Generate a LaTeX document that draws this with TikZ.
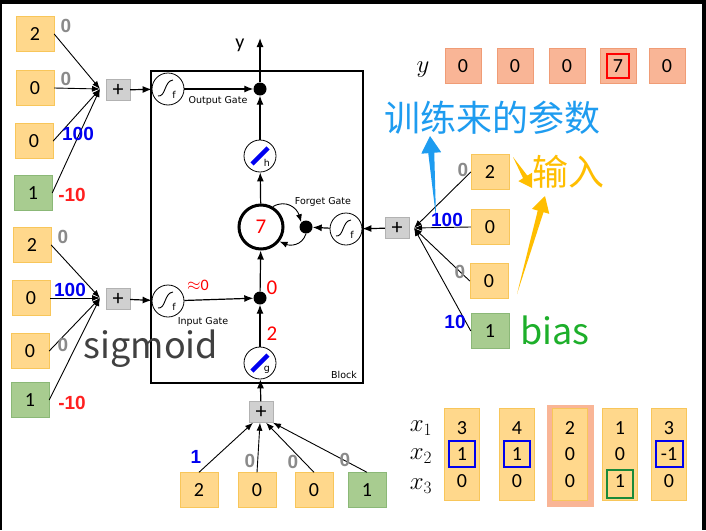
\documentclass[tikz,border=0pt]{standalone}
\usepackage{fontspec}
\setmainfont{Carlito}
\newfontfamily\wfont{Liberation Sans}
\newfontfamily\gfont{DejaVu Sans}
\newfontfamily\cjk{Noto Sans CJK SC}
\usetikzlibrary{arrows.meta}
\usetikzlibrary{calc}

\definecolor{inorange}{HTML}{FFD88C}
\definecolor{inedge}{HTML}{F8C65A}
\definecolor{ingreen}{HTML}{A8CC90}
\definecolor{greenedge}{HTML}{8BB877}
\definecolor{outsalmon}{HTML}{F9B596}
\definecolor{salmonedge}{HTML}{F09C76}
\definecolor{plusgray}{HTML}{D0D0D0}
\definecolor{paramblue}{HTML}{1E9CF0}
\definecolor{inputgold}{HTML}{FFBE00}
\definecolor{biasgreen}{HTML}{1DAF2A}
\definecolor{wgray}{HTML}{8A8A8A}
\definecolor{wblue}{HTML}{0000F0}
\definecolor{wred}{HTML}{FF2020}
\definecolor{sigtext}{HTML}{404040}
\definecolor{markgreen}{HTML}{1A8A3A}

\tikzset{
  xin/.style={draw=inedge, fill=inorange, minimum width=38pt, minimum height=35pt,
    inner sep=0pt, font=\fontsize{20}{20}\selectfont},
  xbias/.style={xin, draw=greenedge, fill=ingreen},
  yout/.style={xin, draw=salmonedge, fill=outsalmon, minimum width=36pt},
  colbox/.style={draw=inedge, fill=inorange, minimum width=35pt, minimum height=92pt, inner sep=0pt},
  adder/.style={draw=gray!60, fill=plusgray, minimum width=24pt, minimum height=21pt,
    inner sep=0pt, font=\fontsize{22}{22}\selectfont},
  unit/.style={draw, circle, line width=0.8pt, minimum size=32pt, inner sep=0pt, fill=white},
  mult/.style={fill, circle, minimum size=13pt, inner sep=0pt},
  wt/.style={font=\wfont\bfseries\fontsize{19}{19}\selectfont, inner sep=0pt},
  gatelabel/.style={font=\gfont\fontsize{9.5}{9.5}\selectfont, inner sep=0pt},
  flow/.style={line width=1.2pt, -{Latex[length=9pt,width=7pt]}},
  wire/.style={line width=0.9pt, -{Latex[length=8pt,width=6pt]}},
  big/.style={font=\cjk\fontsize{36}{36}\selectfont, inner sep=0pt},
  redmark/.style={font=\fontsize{21}{21}\selectfont, text=red, inner sep=0pt},
  mathlabel/.style={font=\fontsize{25}{25}\selectfont, inner sep=0pt},
  sigm/.pic={
    \draw[line width=0.9pt] (-10,7) .. controls (-2,8) and (-4,-8) .. (5,-9);
    \node[gatelabel] at (6,6) {f};
  },
  slashu/.pic={
    \draw[wblue, line width=4.5pt] (-8,8) -- (8,-8);
    \node[gatelabel] at (7,7) {#1};
  }
}

\newcommand{\taperarrow}[6]{%
  \coordinate (hb) at ($(#3)!#4!(#2)$);
  \fill[#1] (#3) -- ($(hb)!#5!90:(#3)$) -- ($(hb)!#6!90:(#3)$) -- (#2)
    -- ($(hb)!#6!-90:(#3)$) -- ($(hb)!#5!-90:(#3)$) -- cycle;
}

\begin{document}
\begin{tikzpicture}[x=1pt,y=-1pt]
  \useasboundingbox (0,0) rectangle (706,530);
  \fill[black] (0,0) rectangle (706,530);
  \fill[white] (2,4) rectangle (702,530);

  \draw[line width=1.2pt] (151,71) rectangle (363,383);
  \node[gatelabel] at (344,375) {Block};

  \node[unit] (og) at (168,89) {};
  \pic at (og) {sigm};
  \node[gatelabel] at (218,101) {Output Gate};
  \node[unit] (ig) at (168,301) {};
  \pic at (ig) {sigm};
  \node[gatelabel] at (203,322) {Input Gate};
  \node[unit] (fg) at (346,229) {};
  \pic at (fg) {sigm};
  \node[gatelabel] at (323,202) {Forget Gate};
  \node[unit] (hu) at (260,156) {};
  \pic at (hu) {slashu=h};
  \node[unit] (gu) at (260,363) {};
  \pic at (gu) {slashu=g};
  \node[unit, line width=3pt, minimum size=44pt, redmark] (cell) at (261,227) {7};

  \node[mult] (om) at (260,89) {};
  \node[mult] (im) at (260,298) {};
  \node[mult] (fm) at (306,227) {};
  \coordinate (yend) at (260,38);
  \node[font=\fontsize{20}{20}\selectfont] at (240,45) {y};

  \draw[flow] (og) -- (om);
  \draw[flow] (ig) -- (im);
  \draw[flow] (fg) -- (fm);
  \draw[flow] (gu) -- (im);
  \draw[flow] (im) -- (cell);
  \draw[flow] (cell) -- (hu);
  \draw[flow] (hu) -- (om);
  \draw[flow] (om) -- (yend);
  \draw[wire] (cell.60) .. controls (286,199) and (297,208) .. (fm.north west);
  \draw[wire] (fm.south) .. controls (302,246) and (290,246) .. (cell.-38);

  \node[redmark] at (272,288) {0};
  \node[redmark] at (272,334) {2};
  \node[redmark, font=\fontsize{16}{16}\selectfont] at (198,285) {$\approx$0};

  % output gate inputs
  \node[xin] (o1) at (35,34) {2};
  \node[xin] (o2) at (35,88) {0};
  \node[xin] (o3) at (34,141) {0};
  \node[xbias] (o4) at (33,193) {1};
  \coordinate (jo) at (100,89);
  \node[adder] (ao) at (118,90) {+};
  \foreach \k in {1,...,4} \draw[wire] (o\k.east) -- (jo);
  \draw[flow] (ao) -- (og);
  \node[wt, wgray] at (66,26) {0};
  \node[wt, wgray] at (66,79) {0};
  \node[wt, wblue] at (78,134) {100};
  \node[wt, wred] at (72,195) {-10};

  % input gate inputs
  \node[xin] (i1) at (32,245) {2};
  \node[xin] (i2) at (31,298) {0};
  \node[xin] (i3) at (30,351) {0};
  \node[xbias] (i4) at (30,400) {1};
  \coordinate (ji) at (100,298);
  \node[adder] (ai) at (118,299) {+};
  \foreach \k in {1,...,4} \draw[wire] (i\k.east) -- (ji);
  \draw[flow] (ai) -- (ig);
  \node[wt, wgray] at (63,237) {0};
  \node[wt, wblue] at (70,290) {100};
  \node[wt, wgray] at (63,345) {0};
  \node[wt, wred] at (72,403) {-10};
  \node[big, text=sigtext] at (151,349) {sigmoid};

  % forget gate inputs
  \node[xin] (f1) at (490,172) {2};
  \node[xin] (f2) at (490,227) {0};
  \node[xin] (f3) at (489,281) {0};
  \node[xbias] (f4) at (490,331) {1};
  \coordinate (jf) at (414,228);
  \node[adder] (af) at (397,228) {+};
  \foreach \k in {1,...,4} \draw[wire] (f\k.west) -- (jf);
  \draw[flow] (af) -- (fg);
  \node[wt, wgray] at (463,170) {0};
  \node[wt, wblue] at (447,220) {100};
  \node[wt, wgray] at (460,272) {0};
  \node[wt, wblue] at (455,322) {10};

  % block inputs
  \node[xin] (g1) at (199,490) {2};
  \node[xin] (g2) at (257,490) {0};
  \node[xin] (g3) at (314,490) {0};
  \node[xbias] (g4) at (367,490) {1};
  \node[adder] (ag) at (261,412) {+};
  \foreach \k/\dx in {1/-8,2/-1,3/5,4/12} \draw[wire] (g\k.north) -- ([xshift=\dx pt]ag.south);
  \draw[flow] (ag) -- (gu);
  \node[wt, wblue] at (196,457) {1};
  \node[wt, wgray] at (250,461) {0};
  \node[wt, wgray] at (293,462) {0};
  \node[wt, wgray] at (345,460) {0};

  % outputs
  \node[mathlabel] at (423,70) {$y$};
  \foreach \k/\px/\v in {1/463/0,2/515/0,3/567/0,4/618/7,5/667/0}
    \node[yout] (y\k) at (\px,66) {\v};
  \draw[red, line width=2pt] ($(y4)+(-11,-12)$) rectangle ($(y4)+(11,12)$);

  \node[big, text=paramblue] at (492,118) {训练来的参数};
  \node[big, text=inputgold] at (568,172) {输入};
  \node[big, text=biasgreen] at (555,330) {bias};
  \taperarrow{paramblue}{436,217}{430,136}{17pt}{10pt}{3pt}
  \taperarrow{inputgold}{513,157}{532,188}{13pt}{8pt}{2.5pt}
  \taperarrow{inputgold}{517,294}{545,196}{16pt}{9pt}{3pt}

  % samples
  \fill[outsalmon] (547,405) rectangle (594,507);
  \foreach \k/\px/\a/\b/\c in {1/462/3/1/0,2/517/4/1/0,3/570/2/0/0,4/620/1/0/1,5/669/3/-1/0} {
    \node[colbox] (s\k) at (\px,454) {};
    \node[font=\fontsize{20}{20}\selectfont] at (\px,428) {\a};
    \node[font=\fontsize{20}{20}\selectfont] at (\px,454) {\b};
    \node[font=\fontsize{20}{20}\selectfont] at (\px,481) {\c};
  }
  \node[mathlabel] at (421,428) {$x_1$};
  \node[mathlabel] at (421,456) {$x_2$};
  \node[mathlabel] at (421,486) {$x_3$};
  \foreach \px in {462,517} \draw[wblue, line width=2pt] (\px-13,441) rectangle (\px+13,467);
  \draw[wblue, line width=2pt] (656,441) rectangle (683,467);
  \draw[markgreen, line width=2pt] (607,470) rectangle (633,498);
\end{tikzpicture}
\end{document}
